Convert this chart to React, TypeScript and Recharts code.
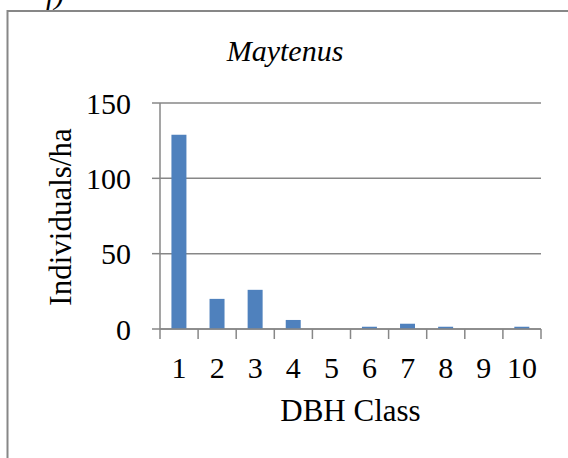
import { BarChart, Bar, XAxis, YAxis, CartesianGrid, Label } from 'recharts'

// DBH class distribution, Maytenus
const classes = ['1', '2', '3', '4', '5', '6', '7', '8', '9', '10']
const individuals = [129, 20, 26, 6, 0, 1.5, 3.5, 1.5, 0, 1.5]
const yTicks = [0, 50, 100, 150]

const W = 568
const H = 458
const margin = { top: 103, right: 27, bottom: 0, left: 0 }
const Y_AXIS_W = 160
const X_AXIS_H = 129
const PLOT_W = W - margin.left - margin.right - Y_AXIS_W
const BAND = PLOT_W / classes.length

const GRAY = '#878787'
const BLUE = '#4F81BD'
const SERIF = "'Liberation Serif', 'Times New Roman', serif"

const data = classes.map((c, i) => ({ dbh: c, value: individuals[i] }))

// excel-style ticks sit between categories, labels in the middle
function ClassTick(props: any) {
  const { x, y, payload, index } = props
  const left = x - BAND / 2
  return (
    <g>
      <line x1={left} x2={left} y1={y} y2={y + 10} stroke={GRAY} strokeWidth={1.5} />
      {index === classes.length - 1 && (
        <line x1={x + BAND / 2} x2={x + BAND / 2} y1={y} y2={y + 10} stroke={GRAY} strokeWidth={1.5} />
      )}
      <text x={x} y={y + 48.5} textAnchor="middle" fontSize={30} fontFamily={SERIF} fill="#000">
        {payload.value}
      </text>
    </g>
  )
}

function YTitle(p: any) {
  const vb = p.viewBox
  const cx = vb.x + 60
  const cy = vb.y + vb.height / 2 + 1
  return (
    <text
      x={cx}
      y={cy}
      dy="0.355em"
      transform={`rotate(-90 ${cx} ${cy})`}
      textAnchor="middle"
      fontSize={31}
      fontFamily={SERIF}
      fill="#000"
    >
      Individuals/ha
    </text>
  )
}

function XTitle(p: any) {
  const vb = p.viewBox
  return (
    <text
      x={vb.x + vb.width / 2}
      y={vb.y + 91.5}
      textAnchor="middle"
      fontSize={31}
      fontFamily={SERIF}
      fill="#000"
    >
      DBH Class
    </text>
  )
}

export default function App() {
  return (
    <div style={{ position: 'absolute', left: 0, top: 0, width: W, height: H, background: '#fff', overflow: 'hidden' }}>
      <svg width={W} height={H} style={{ position: 'absolute', left: 0, top: 0 }}>
        <text x={46} y={3.5} fontSize={30} fontStyle="italic" fontFamily={SERIF} fill="#000">
          f)
        </text>
        <path d={`M7.5 ${H + 20} V11 H${W + 20}`} fill="none" stroke={GRAY} strokeWidth={2} />
        <text x={285} y={60.7} textAnchor="middle" fontSize={30} fontStyle="italic" fontFamily={SERIF} fill="#000">
          Maytenus
        </text>
      </svg>
      <div style={{ position: 'absolute', left: 0, top: 0 }}>
        <BarChart width={W} height={H} data={data} margin={margin} barCategoryGap="30%" style={{ fontFamily: SERIF }}>
          <CartesianGrid vertical={false} stroke={GRAY} strokeWidth={1.5} />
          <XAxis
            dataKey="dbh"
            height={X_AXIS_H}
            interval={0}
            tickLine={false}
            tickSize={0}
            tickMargin={0}
            axisLine={{ stroke: GRAY, strokeWidth: 1.5 }}
            tick={<ClassTick />}
          >
            <Label content={<XTitle />} />
          </XAxis>
          <YAxis
            width={Y_AXIS_W}
            domain={[0, 150]}
            ticks={yTicks}
            tickSize={8}
            tickMargin={21}
            tickLine={{ stroke: GRAY, strokeWidth: 1.5 }}
            axisLine={{ stroke: GRAY, strokeWidth: 1.5 }}
            tick={{ fontSize: 30, fill: '#000', fontFamily: SERIF }}
          >
            <Label content={<YTitle />} />
          </YAxis>
          <Bar dataKey="value" fill={BLUE} isAnimationActive={false} />
        </BarChart>
      </div>
    </div>
  )
}
